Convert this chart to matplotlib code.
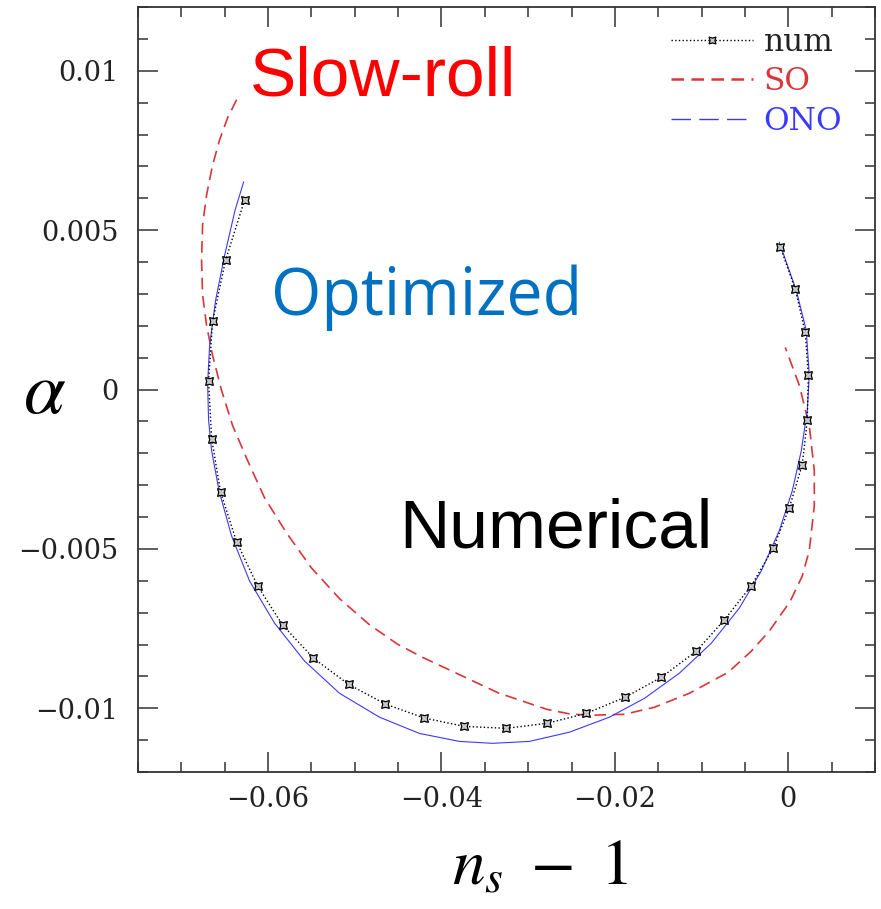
import matplotlib
matplotlib.use('Agg')
import matplotlib.pyplot as plt
from matplotlib.lines import Line2D
from matplotlib.ticker import MultipleLocator, FixedLocator, FixedFormatter

plt.rcParams['mathtext.fontset'] = 'stix'

# numerical result (markers)
num_x = [-0.06271, -0.06490, -0.06640, -0.06686, -0.06651, -0.06548, -0.06363, -0.06121,
         -0.05833, -0.05476, -0.05072, -0.04646, -0.04196, -0.03735, -0.03251, -0.02778,
         -0.02329, -0.01879, -0.01464, -0.01061, -0.00738, -0.00427, -0.00173, 0.00012,
         0.00161, 0.00219, 0.00231, 0.00196, 0.00081, -0.00092]
num_y = [0.00594, 0.00406, 0.00214, 0.00028, -0.00154, -0.00321, -0.00478, -0.00616,
         -0.00739, -0.00843, -0.00925, -0.00987, -0.01031, -0.01057, -0.01063, -0.01047,
         -0.01016, -0.00965, -0.00903, -0.00821, -0.00723, -0.00616, -0.00497, -0.00371,
         -0.00236, -0.00097, 0.00044, 0.00179, 0.00314, 0.00447]

# slow-roll (SO)
so_x = [-0.06363, -0.06467, -0.06559, -0.06640, -0.06709, -0.06755, -0.06767, -0.06755,
        -0.06709, -0.06640, -0.06536, -0.06409, -0.06236, -0.06040, -0.05787, -0.05499,
        -0.05176, -0.04830, -0.04507, -0.04220, -0.03954, -0.03343, -0.02790, -0.02520,
        -0.02294, -0.01890, -0.01545, -0.01141, -0.00692, -0.00427, -0.00219, 0.00023,
        0.00161, 0.00242, 0.00300, 0.00300, 0.00242, 0.00127, -0.00035]
so_y = [0.00909, 0.00852, 0.00783, 0.00704, 0.00610, 0.00516, 0.00406, 0.00296,
        0.00201, 0.00107, -0.00003, -0.00113, -0.00223, -0.00340, -0.00450, -0.00560,
        -0.00656, -0.00738, -0.00799, -0.00840, -0.00874, -0.00952, -0.01003, -0.01018,
        -0.01022, -0.01019, -0.00997, -0.00953, -0.00887, -0.00821, -0.00758, -0.00664,
        -0.00585, -0.00506, -0.00365, -0.00255, -0.00113, 0.00013, 0.00132]

# optimized (ONO)
ono_x = [-0.06282, -0.06380, -0.06501, -0.06605, -0.06674, -0.06697, -0.06686, -0.06651,
         -0.06565, -0.06421, -0.06213, -0.05925, -0.05579, -0.05176, -0.04715, -0.04254,
         -0.03793, -0.03412, -0.02986, -0.02524, -0.02063, -0.01660, -0.01256, -0.00888,
         -0.00565, -0.00311, -0.00104, 0.00046, 0.00150, 0.00219, 0.00242, 0.00207,
         0.00092, -0.00104]
ono_y = [0.00651, 0.00563, 0.00421, 0.00280, 0.00138, 0.00019, -0.00097, -0.00192,
         -0.00318, -0.00459, -0.00601, -0.00733, -0.00852, -0.00953, -0.01028, -0.01079,
         -0.01104, -0.01110, -0.01104, -0.01075, -0.01028, -0.00969, -0.00890, -0.00796,
         -0.00686, -0.00569, -0.00443, -0.00318, -0.00192, -0.00066, 0.00044, 0.00186,
         0.00311, 0.00462]

xticks = [-0.06, -0.04, -0.02, 0]
xtick_labels = ['\u22120.06', '\u22120.04', '\u22120.02', '0']
yticks = [-0.01, -0.005, 0, 0.005, 0.01]
ytick_labels = ['\u22120.01', '\u22120.005', '0', '0.005', '0.01']

red = '#d9363a'
blue = '#3a3aff'

fig = plt.figure(figsize=(8.81, 9.09), dpi=100)
ax = fig.add_axes([138/881, 1 - 772/909, (875 - 138)/881, (772 - 7)/909])

ax.plot(so_x, so_y, color=red, lw=1.2, dashes=(7, 4))
ax.plot(ono_x, ono_y, color=blue, lw=0.8)
ax.plot(num_x, num_y, color='black', lw=1.0, ls=':', marker=(4, 1, 45),
        ms=8, mfc='#c8c8c8', mec='black', mew=0.9)

ax.set_xlim(-0.075, 0.01)
ax.set_ylim(-0.012, 0.012)

ax.xaxis.set_major_locator(FixedLocator(xticks))
ax.xaxis.set_major_formatter(FixedFormatter(xtick_labels))
ax.xaxis.set_minor_locator(MultipleLocator(0.005))
ax.yaxis.set_major_locator(FixedLocator(yticks))
ax.yaxis.set_major_formatter(FixedFormatter(ytick_labels))
ax.yaxis.set_minor_locator(MultipleLocator(0.001))

ax.tick_params(which='both', direction='in', top=True, right=True, color='#333333', width=1.1)
ax.tick_params(which='major', length=14.5)
ax.tick_params(which='minor', length=7.2)
ax.tick_params(axis='x', which='major', pad=10)
ax.tick_params(axis='y', which='major', pad=14)
for lab in ax.get_xticklabels() + ax.get_yticklabels():
    lab.set_fontfamily('DejaVu Serif')
    lab.set_fontsize(19.5)
    lab.set_color('#222222')
for sp in ax.spines.values():
    sp.set_linewidth(1.3)
    sp.set_color('#333333')

handles = [
    Line2D([], [], color='black', lw=1.0, ls=':', marker=(4, 1, 45), ms=7,
           mfc='#c8c8c8', mec='black', mew=0.9),
    Line2D([], [], color=red, lw=1.8, dashes=(5, 3)),
    Line2D([], [], color=blue, lw=1.0, dashes=(14, 6)),
]
leg = ax.legend(handles, ['num', 'SO', 'ONO'], loc='upper right', bbox_to_anchor=(0.985, 1.003),
                frameon=False, handlelength=2.6, handletextpad=0.35, labelspacing=0.28,
                borderpad=0.2, numpoints=1, labelcolor=['#222222', red, blue],
                prop={'family': 'DejaVu Serif', 'size': 22.5})

fig.text(250/881, 1 - 95/909, 'Slow-roll', color='#ff0000', fontsize=50,
         family='Liberation Sans', ha='left', va='baseline')
fig.text(271/881, 1 - 315/909, 'Optimized', color='#0070c0', fontsize=46.5,
         family='Open Sans', ha='left', va='baseline')
fig.text(399/881, 1 - 548/909, 'Numerical', color='black', fontsize=50,
         family='Liberation Sans', ha='left', va='baseline')

fig.text(45/881, 1 - 392/909, r'$\alpha$', fontsize=54, ha='center', va='center')
fig.text(540/881, 1 - 885/909, r'$n_s\ -\ 1$', fontsize=47, ha='center', va='baseline')

fig.savefig('out.png', dpi=100)
